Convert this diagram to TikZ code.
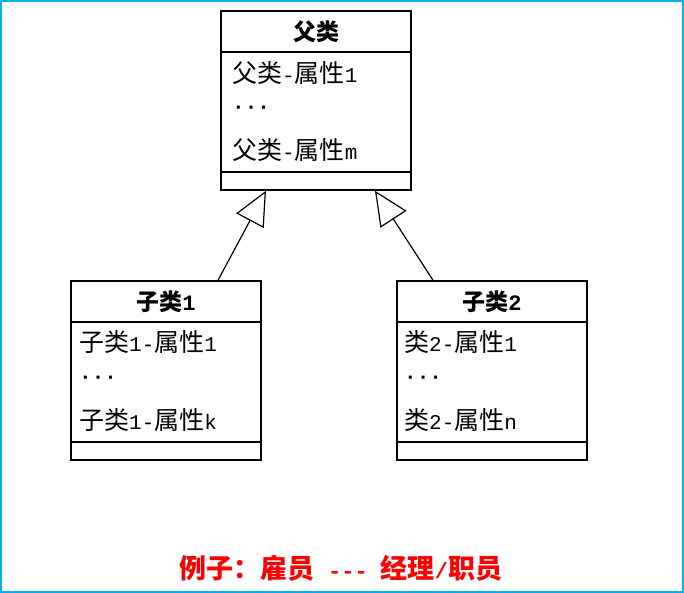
\documentclass[tikz,border=0pt]{standalone}
\usepackage{fontspec}
\setmainfont{Noto Sans CJK SC}
\newfontfamily\monofam{Liberation Mono}
\newcommand\lat[1]{{\monofam\fontsize{21}{24}\selectfont #1}}
\newcommand\latb[1]{{\monofam\bfseries\fontsize{22}{26}\selectfont #1}}
\usetikzlibrary{arrows.meta}
\definecolor{frameblue}{RGB}{0,176,240}

\begin{document}
\begin{tikzpicture}[x=1pt, y=-1pt,
  hd/.style={draw, line width=1.5pt, minimum width=190pt, minimum height=41pt,
             inner sep=0pt, font=\fontsize{23}{26}\selectfont\bfseries},
  att/.style={draw, line width=1.5pt, minimum width=190pt, minimum height=120pt, inner sep=0pt},
  ops/.style={draw, line width=1.5pt, minimum width=190pt, minimum height=18pt, inner sep=0pt},
  txt/.style={anchor=west, inner sep=0pt, font=\fontsize{25}{28}\selectfont},
  gen/.style={line width=1.2pt, -{Triangle[open, length=34pt, width=31pt]}}
]
\useasboundingbox (0,0) rectangle (684,593);
\draw[frameblue, line width=2pt] (1,1) rectangle (683,592);
% parent class
\node[hd]  (ph) at (316, 31.5) {父类};
\node[att] (pa) at (316, 112)  {};
\node[ops] (po) at (316, 181)  {};
\node[txt] (pa1) at (232, 73)  {父类\lat{-}属性\lat{1}};
\node[txt] (pa2) at (232, 110) {\lat{\bfseries ···}};
\node[txt] (pa3) at (232, 150) {父类\lat{-}属性\lat{m}};
% child 1
\node[hd]  (ah) at (166, 301.5) {子类\latb{1}};
\node[att] (aa) at (166, 382)   {};
\node[ops] (ao) at (166, 451)   {};
\node[txt] (aa1) at (79, 342) {子类\lat{1-}属性\lat{1}};
\node[txt] (aa2) at (79, 380) {\lat{\bfseries ···}};
\node[txt] (aa3) at (79, 420) {子类\lat{1-}属性\lat{k}};
% child 2
\node[hd]  (bh) at (492, 301.5) {子类\latb{2}};
\node[att] (ba) at (492, 382)   {};
\node[ops] (bo) at (492, 451)   {};
\node[txt] (ba1) at (404, 342) {类\lat{2-}属性\lat{1}};
\node[txt] (ba2) at (404, 380) {\lat{\bfseries ···}};
\node[txt] (ba3) at (404, 420) {类\lat{2-}属性\lat{n}};
% generalisation
\draw[gen] ([xshift=52pt]ah.north) -- ([xshift=-50pt]po.south);
\draw[gen] ([xshift=-59pt]bh.north) -- ([xshift=59pt]po.south);
\node[font=\fontsize{27}{30}\selectfont\bfseries, text=red] (ex) at (341, 568)
  {例子：雇员\latb{\ -{}-{}-\ }经理\latb{/}职员};
\end{tikzpicture}
\end{document}
